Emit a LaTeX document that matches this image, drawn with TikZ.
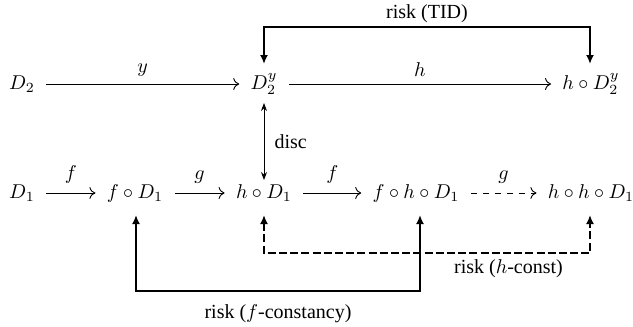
\documentclass[tikz,border=0pt]{standalone}
\usepackage{fontspec}
\setmainfont{Liberation Serif}
\usetikzlibrary{arrows.meta,calc}
\begin{document}
\begin{tikzpicture}[x=0.5pt,y=-0.5pt,
  obj/.style={inner xsep=5.5pt,inner ysep=3pt,text height=7pt,text depth=2pt},
  map/.style={-{To[length=3pt,width=6pt]},line width=0.45pt},
  lab/.style={midway,above,inner sep=3.5pt},
  riskl/.style={line width=1.3pt,{Latex[length=4.5pt,width=4pt]}-{Latex[length=4.5pt,width=4pt]}},
  riskdash/.style={riskl,dash pattern=on 4pt off 1.6pt},
  discl/.style={line width=0.5pt,{Stealth[length=4pt,width=3pt]}-{Stealth[length=4pt,width=3pt]}}
]
\useasboundingbox (0,0) rectangle (633,327);

% objects
\node[obj] (D2)   at (22,84)  {$D_2$};
\node[obj] (D2y)  at (264,84) {$D_2^y$};
\node[obj] (hD2y) at (591,84) {$h\circ D_2^y$};
\node[obj] (D1)   at (22,193)  {$D_1$};
\node[obj] (fD1)  at (135,193) {$f\circ D_1$};
\node[obj] (hD1)  at (264,193) {$h\circ D_1$};
\node[obj] (fhD1) at (416,193) {$f\circ h\circ D_1$};
\node[obj] (hhD1) at (591,193) {$h\circ h\circ D_1$};

% maps
\draw[map] (D2) -- node[lab]{$y$} (D2y);
\draw[map] (D2y) -- node[lab]{$h$} (hD2y);
\draw[map] (D1) -- node[lab,inner sep=4.5pt]{$f$} (fD1);
\draw[map] (fD1) -- node[lab,inner sep=4.5pt]{$g$} (hD1);
\draw[map] (hD1) -- node[lab,inner sep=4.5pt]{$f$} (fhD1);
\draw[map,dash pattern=on 3pt off 3pt] (fhD1) -- node[lab,inner sep=4.5pt]{$g$} (hhD1);

% disc
\draw[discl] ($(D2y)+(0,19)$) -- node[right,inner sep=5pt]{disc} ($(hD1)+(0,-13)$);

% risk (TID)
\coordinate (tid) at (0,27);
\coordinate (tidA) at ($(D2y)+(0,-20)$);
\coordinate (tidB) at ($(hD2y)+(-1,-20)$);
\draw[riskl] (tidA) -- (tidA |- tid) -- node[above,inner sep=1.5pt]{risk (TID)} (tidB |- tid) -- (tidB);

% risk (h-const)
\coordinate (hc) at (0,253);
\coordinate (hcA) at ($(hD1)+(0,22)$);
\coordinate (hcB) at ($(hhD1)+(-1,22)$);
\draw[riskdash] (hcA) -- (hcA |- hc) -- node[pos=0.75,below,inner sep=2.7pt]{risk ($h$-const)} (hcB |- hc) -- (hcB);

% risk (f-constancy)
\coordinate (fc) at (0,291);
\coordinate (fcA) at ($(fD1)+(1,22)$);
\coordinate (fcB) at ($(fhD1)+(4,22)$);
\draw[riskl] (fcA) -- (fcA |- fc) -- node[below,inner sep=6pt]{risk ($f$-constancy)} (fcB |- fc) -- (fcB);
\end{tikzpicture}
\end{document}
